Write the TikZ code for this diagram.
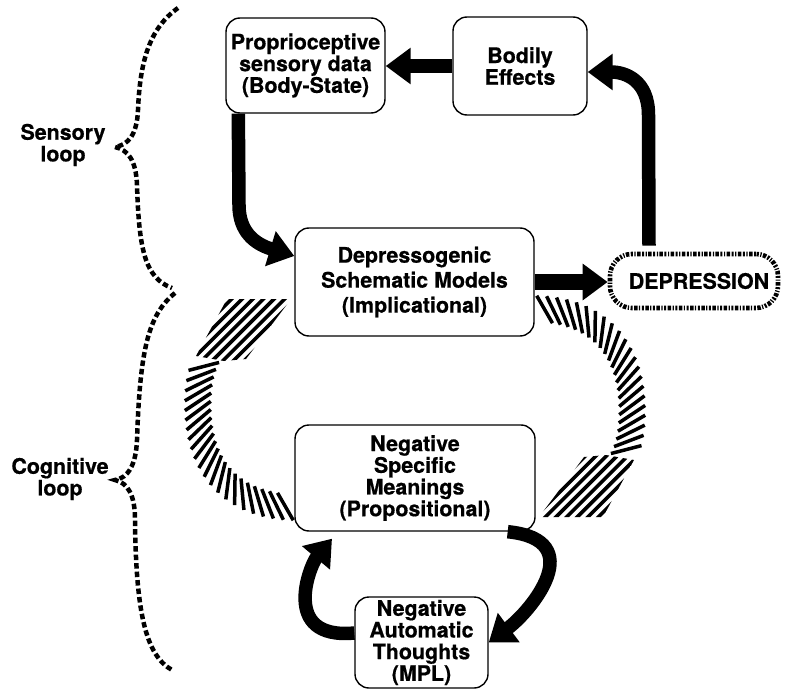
\documentclass[tikz,border=0pt]{standalone}
\usepackage{fontspec}
\setmainfont{TeX Gyre Heros}[BoldFeatures={FakeBold=0.6}]
\usetikzlibrary{arrows.meta,decorations.markings}
\tikzset{
  box/.style={draw, line width=1.4pt, rounded corners=14pt, align=center, inner sep=0pt,
    font=\bfseries\fontsize{21.4}{21.7}\selectfont},
  wide/.style={font=\bfseries\fontsize{21.4}{25}\selectfont},
  depbox/.style={draw, line width=4.6pt, dash pattern=on 2pt off 1.5pt on 3.5pt off 1.4pt on 1.2pt off 1.6pt,
    rounded corners=22pt, align=center, inner sep=0pt, font=\bfseries\fontsize{21.4}{21.7}\selectfont},
  lab/.style={align=center, inner sep=0pt, font=\bfseries\fontsize{21.4}{21.7}\selectfont},
  blk/.style={line width=13.5pt, -{Triangle[length=25pt 0 0, width=35pt 0 0]}},
  bracedash/.style={line width=4.5pt, dash pattern=on 5.5pt off 3pt},
  hatcharrow/.pic={
    \path[decorate, decoration={markings,
        mark=between positions 0.035 and 0.93 step 9pt with
        {\draw[line width=3.5pt] (9pt,-13pt) -- (-9pt,13pt);}}]
      (293,-507) .. controls (230,-505) and (198,-465) .. (198,-405)
      .. controls (198,-380) and (203,-362) .. (214,-348);
    \begin{scope}
      \clip (196,-356) -- (227,-299) -- (291,-299) -- (246,-359) -- (224,-361) -- cycle;
      \foreach \i in {0,...,14} \draw[line width=3.6pt] (120+\i*10.6,-400) -- ++(130,130);
    \end{scope}
  }
}
\begin{document}
\begin{tikzpicture}[x=1pt,y=1pt]
\useasboundingbox (0,0) rectangle (785,-690);

% boxes
\node[box, minimum width=159pt, minimum height=95pt] (prop) at (305.5,-65.5)
  {Proprioceptive\\sensory data\\(Body-State)};
\node[box, minimum width=134pt, minimum height=98pt] (bod) at (520,-66)
  {Bodily\\Effects};
\node[box, wide, minimum width=239pt, minimum height=108pt] (dsm) at (414.5,-282)
  {Depressogenic\\Schematic Models\\(Implicational)};
\node[depbox, minimum width=168pt, minimum height=54pt] (dep) at (694,-281)
  {\hspace*{10pt}DEPRESSION};
\node[box, minimum width=240pt, minimum height=106pt] (nsm) at (415,-478)
  {Negative\\Specific\\Meanings\\(Propositional)};
\node[box, minimum width=133pt, minimum height=91pt] (nat) at (421.5,-642.5)
  {Negative\\Automatic\\Thoughts\\(MPL)};

% loop labels
\node[lab] (sl) at (63,-145) {Sensory\\loop};
\node[lab] (cl) at (60,-479) {Cognitive\\loop};

% braces
\draw[bracedash] (178,-8) .. controls (150,-28) and (140,-60) .. (138,-110)
  .. controls (137,-135) and (128,-145) .. (115,-147)
  .. controls (128,-150) and (136,-160) .. (137,-185)
  .. controls (139,-250) and (145,-278) .. (172,-288);
\draw[bracedash] (175,-293) .. controls (148,-315) and (140,-350) .. (137,-440)
  .. controls (136,-465) and (128,-478) .. (115,-480)
  .. controls (128,-483) and (135,-495) .. (135,-520)
  .. controls (136,-610) and (145,-655) .. (172,-670);

% hatched arrows
\pic at (0,0) {hatcharrow};
\pic[rotate=180] at (830,-816) {hatcharrow};

% black arrows
\coordinate (bt) at (0,-72);
\draw[blk] (bod.west) -- (prop.east |- bod.west);
\draw[blk] ([xshift=13pt]prop.south west) -- (239,-205)
  .. controls (239,-232) and (255,-244) .. ([yshift=26pt]dsm.west);
\draw[blk, line width=16pt] (dsm.east) -- (dep.west |- dsm.east);
\draw[blk] ([xshift=-45pt,yshift=6pt]dep.north) -- (648.5,-115)
  .. controls (648.5,-80) and (625,-72) .. (bod.east |- bt);
\draw[blk] ([xshift=-28pt]nsm.south east) .. controls (590,-540) and (531,-611) .. (nat.east);
\coordinate (nsmL) at ([xshift=-83pt,yshift=-7pt]nsm.south);
\draw[blk] ([yshift=9.5pt]nat.west) .. controls (280,-640) and (310,-565) .. (nsmL);
\end{tikzpicture}
\end{document}
